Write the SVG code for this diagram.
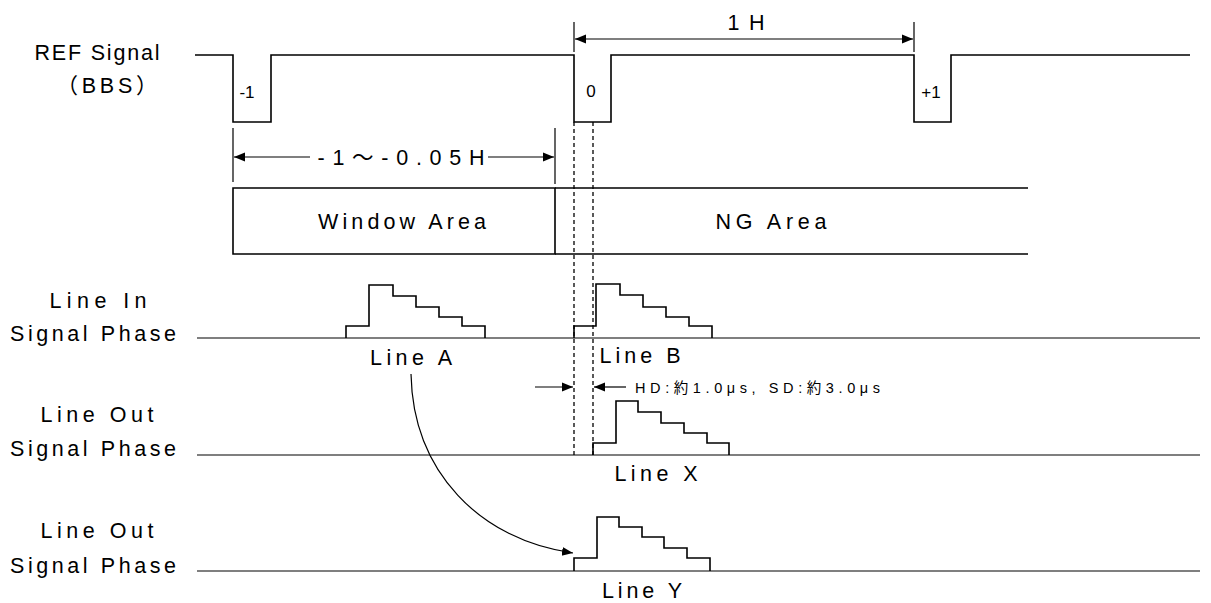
<svg xmlns="http://www.w3.org/2000/svg" width="1211" height="603" viewBox="0 0 1211 603">
<defs>
<style>
.ln{stroke:#000;stroke-width:1.6;fill:none}
.thin{stroke:#000;stroke-width:1.2;fill:none}
.dash{stroke:#000;stroke-width:1.3;fill:none;stroke-dasharray:4 3}
.t{font-family:"Liberation Sans","Noto Sans CJK JP",sans-serif;fill:#000;font-size:21.5px}
.s{font-family:"Liberation Sans","Noto Sans CJK JP",sans-serif;fill:#000;font-size:17px}
.h{font-family:"Liberation Sans","Noto Sans CJK JP",sans-serif;fill:#000;font-size:14.5px}
</style>
<marker id="ah" viewBox="0 0 10 10" refX="10" refY="5" markerWidth="11" markerHeight="11" markerUnits="userSpaceOnUse" orient="auto">
<path d="M0,1 L10,5 L0,9 Z" fill="#000"/>
</marker>
</defs>

<g id="ref-signal">
<path class="ln" d="M195,55 H233 V122 H271 V55 H574 V122 H611 V55 H914 V122 H951 V55 H1190"/>
<text class="t" x="97" y="60" text-anchor="middle" textLength="125" lengthAdjust="spacing">REF Signal</text>
<text class="t" x="107" y="93" text-anchor="middle" textLength="101" lengthAdjust="spacing">（BBS）</text>
<text class="s" x="247" y="98" text-anchor="middle">-1</text>
<text class="s" x="591" y="97" text-anchor="middle">0</text>
<text class="s" x="931" y="98" text-anchor="middle">+1</text>
</g>

<g id="dim-1h">
<path class="thin" d="M574,22 V52 M914,22 V52"/>
<line class="thin" x1="744" y1="39" x2="575" y2="39" marker-end="url(#ah)"/>
<line class="thin" x1="744" y1="39" x2="913" y2="39" marker-end="url(#ah)"/>
<text class="t" x="746" y="30" text-anchor="middle" textLength="37" lengthAdjust="spacing">1H</text>
</g>

<g id="dim-window">
<path class="thin" d="M233,128 V182 M555,128 V184"/>
<line class="thin" x1="310" y1="157" x2="234" y2="157" marker-end="url(#ah)"/>
<line class="thin" x1="488" y1="157" x2="554" y2="157" marker-end="url(#ah)"/>
<text class="t" x="401" y="165" text-anchor="middle" textLength="167" lengthAdjust="spacing">-1～-0.05H</text>
</g>

<g id="window-area">
<path class="ln" d="M233,188 H555 V254 H233 Z"/>
<text class="t" x="402" y="229" text-anchor="middle" textLength="168" lengthAdjust="spacing">Window Area</text>
</g>

<g id="ng-area">
<path class="ln" d="M555,188 H1028 M555,254 H1028"/>
<text class="t" x="771" y="229" text-anchor="middle" textLength="111" lengthAdjust="spacing">NG Area</text>
</g>

<g id="guides">
<line class="dash" x1="574" y1="122" x2="574" y2="455"/>
<line class="dash" x1="593" y1="122" x2="593" y2="455"/>
</g>

<g id="line-in">
<text class="t" x="98" y="308" text-anchor="middle" textLength="97" lengthAdjust="spacing">Line In</text>
<text class="t" x="93" y="341" text-anchor="middle" textLength="166" lengthAdjust="spacing">Signal Phase</text>
<line class="thin" x1="197" y1="338" x2="1200" y2="338"/>
<path class="ln" d="M346,338 V326 H369 V285 H393 V296 H416 V307 H439 V317 H462 V326 H485 V338"/>
<text class="t" x="411" y="365" text-anchor="middle" textLength="82" lengthAdjust="spacing">Line A</text>
<path class="ln" d="M574,338 V326 H596 V284 H620 V295 H643 V307 H666 V317 H689 V326 H712 V338"/>
<text class="t" x="640" y="363" text-anchor="middle" textLength="81" lengthAdjust="spacing">Line B</text>
</g>

<g id="delay">
<line class="thin" x1="535" y1="387" x2="573" y2="387" marker-end="url(#ah)"/>
<line class="thin" x1="626" y1="387" x2="594" y2="387" marker-end="url(#ah)"/>
<text class="h" x="635" y="393" textLength="245" lengthAdjust="spacing">HD:約1.0μs, SD:約3.0μs</text>
</g>

<g id="line-out-x">
<text class="t" x="97" y="422" text-anchor="middle" textLength="113" lengthAdjust="spacing">Line Out</text>
<text class="t" x="93" y="456" text-anchor="middle" textLength="166" lengthAdjust="spacing">Signal Phase</text>
<line class="thin" x1="197" y1="455" x2="1200" y2="455"/>
<path class="ln" d="M593,455 V443 H616 V401 H638 V412 H661 V423 H684 V433 H707 V443 H729 V455"/>
<text class="t" x="656" y="481" text-anchor="middle" textLength="83" lengthAdjust="spacing">Line X</text>
</g>

<g id="line-out-y">
<text class="t" x="97" y="538" text-anchor="middle" textLength="113" lengthAdjust="spacing">Line Out</text>
<text class="t" x="93" y="573" text-anchor="middle" textLength="166" lengthAdjust="spacing">Signal Phase</text>
<line class="thin" x1="197" y1="571" x2="1200" y2="571"/>
<path class="ln" d="M574,571 V558 H597 V517 H619 V527 H642 V537 H664 V548 H687 V558 H710 V571"/>
<text class="t" x="642" y="598" text-anchor="middle" textLength="80" lengthAdjust="spacing">Line Y</text>
</g>

<g id="connectors">
<path class="thin" d="M411,374 C413,472 480,540 573,553" marker-end="url(#ah)"/>
</g>
</svg>
